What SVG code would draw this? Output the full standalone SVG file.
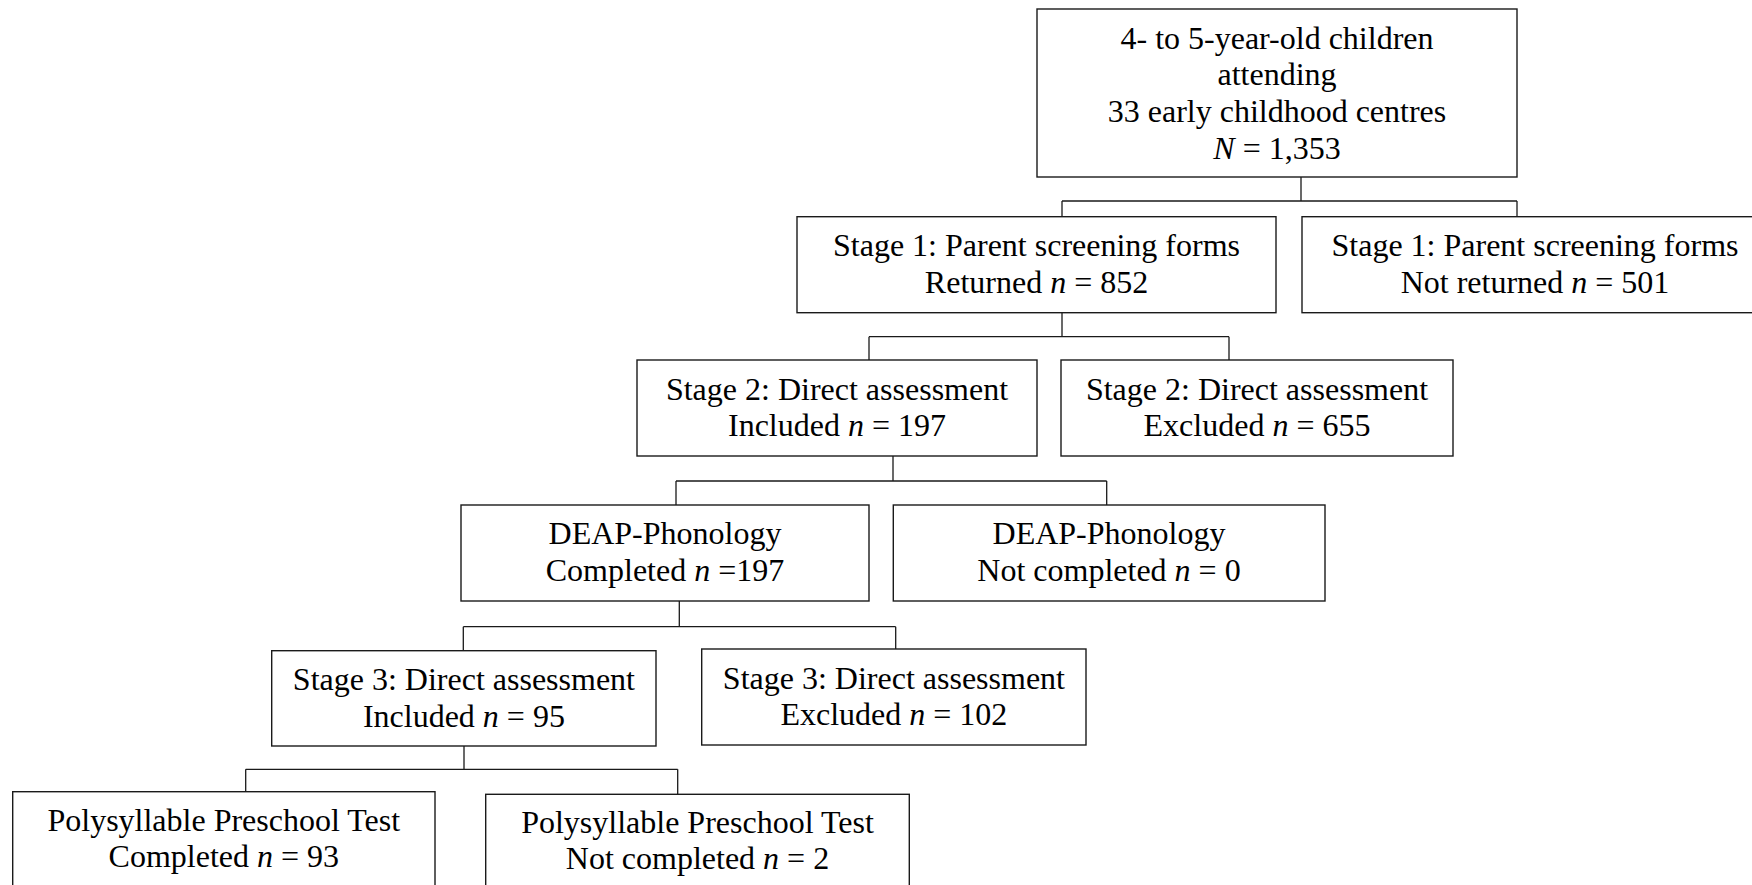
<svg xmlns="http://www.w3.org/2000/svg" width="1752" height="885" viewBox="0 0 1752 885">
<style>
rect.box{fill:#fff;stroke:#1a1a1a;stroke-width:1.4}
.conn path{fill:none;stroke:#1a1a1a;stroke-width:1.3}
text{font-family:"Liberation Serif","Times New Roman",serif;font-size:32px;fill:#000;text-anchor:middle}
.i{font-style:italic}
</style>
<rect width="1752" height="885" fill="#fff"/>
<g class="conn" id="connectors">
<path d="M1301,177 V201 M1062,201 H1517 M1062,201 V216.7 M1517,201 V216.7"/>
<path d="M1062,312.7 V336.7 M869,336.7 H1229 M869,336.7 V360 M1229,336.7 V360"/>
<path d="M893,456 V481 M676,481 H1106.7 M676,481 V505 M1106.7,481 V505"/>
<path d="M679.3,601 V626.7 M463.3,626.7 H895.7 M463.3,626.7 V650.7 M895.7,626.7 V649"/>
<path d="M464,746 V769.3 M245.7,769.3 H677.7 M245.7,769.3 V791.7 M677.7,769.3 V794.3"/>
</g>
<g id="n-top">
<rect class="box" x="1037" y="9" width="480" height="168"/>
<text x="1277" y="48.5">4- to 5-year-old children</text>
<text x="1277" y="85.3">attending</text>
<text x="1277" y="122.1">33 early childhood centres</text>
<text x="1277" y="158.9"><tspan class="i">N</tspan> = 1,353</text>
</g>
<g id="n-s1-returned">
<rect class="box" x="797" y="216.7" width="479" height="96"/>
<text x="1036.5" y="256.2">Stage 1: Parent screening forms</text>
<text x="1036.5" y="293">Returned <tspan class="i">n</tspan> = 852</text>
</g>
<g id="n-s1-notreturned">
<rect class="box" x="1302" y="216.7" width="466" height="96"/>
<text x="1535" y="256.2">Stage 1: Parent screening forms</text>
<text x="1535" y="293">Not returned <tspan class="i">n</tspan> = 501</text>
</g>
<g id="n-s2-included">
<rect class="box" x="637" y="360" width="400" height="96"/>
<text x="837" y="399.5">Stage 2: Direct assessment</text>
<text x="837" y="436.3">Included <tspan class="i">n</tspan> = 197</text>
</g>
<g id="n-s2-excluded">
<rect class="box" x="1061" y="360" width="392" height="96"/>
<text x="1257" y="399.5">Stage 2: Direct assessment</text>
<text x="1257" y="436.3">Excluded <tspan class="i">n</tspan> = 655</text>
</g>
<g id="n-deap-completed">
<rect class="box" x="461" y="505" width="408" height="96"/>
<text x="665" y="544">DEAP-Phonology</text>
<text x="665" y="580.8">Completed <tspan class="i">n</tspan> =197</text>
</g>
<g id="n-deap-notcompleted">
<rect class="box" x="893.3" y="505" width="431.7" height="96"/>
<text x="1109" y="544">DEAP-Phonology</text>
<text x="1109" y="580.8">Not completed <tspan class="i">n</tspan> = 0</text>
</g>
<g id="n-s3-included">
<rect class="box" x="271.7" y="650.7" width="384.3" height="95.3"/>
<text x="463.9" y="690.2">Stage 3: Direct assessment</text>
<text x="463.9" y="727">Included <tspan class="i">n</tspan> = 95</text>
</g>
<g id="n-s3-excluded">
<rect class="box" x="701.7" y="649" width="384.3" height="96"/>
<text x="893.9" y="688.5">Stage 3: Direct assessment</text>
<text x="893.9" y="725.3">Excluded <tspan class="i">n</tspan> = 102</text>
</g>
<g id="n-pst-completed">
<rect class="box" x="12.7" y="791.7" width="422.3" height="96"/>
<text x="223.8" y="830.5">Polysyllable Preschool Test</text>
<text x="223.8" y="867.3">Completed <tspan class="i">n</tspan> = 93</text>
</g>
<g id="n-pst-notcompleted">
<rect class="box" x="485.7" y="794.3" width="423.6" height="96"/>
<text x="697.5" y="832.5">Polysyllable Preschool Test</text>
<text x="697.5" y="869.3">Not completed <tspan class="i">n</tspan> = 2</text>
</g>
</svg>
